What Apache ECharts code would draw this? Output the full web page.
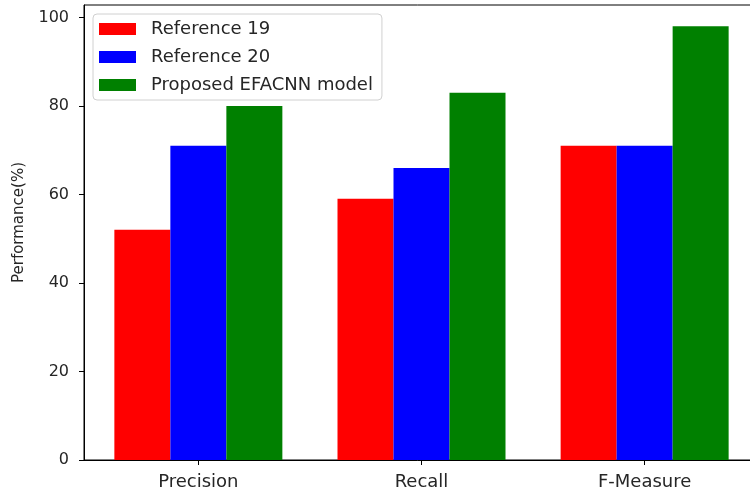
<!DOCTYPE html>
<html>
<head>
<meta charset="utf-8">
<script src="https://cdn.jsdelivr.net/npm/echarts@6/dist/echarts.min.js"></script>
<style>
  html, body { margin: 0; padding: 0; background: #fff; }
  #chart { width: 750px; height: 492px; }
</style>
</head>
<body>
<div id="chart"></div>
<script>
const categories = ['Precision', 'Recall', 'F-Measure']
const seriesNames = ['Reference 19', 'Reference 20', 'Proposed EFACNN model']
const ref19 = [52, 59, 71]
const ref20 = [71, 66, 71]
const efacnn = [80, 83, 98]
const yTicks = [0, 20, 40, 60, 80, 100]
const xTicks = [0, 1, 2]

const colors = ['#ff0000', '#0000ff', '#008000']
const font = 'DejaVu Sans'
const textColor = '#262626'

const chart = echarts.init(document.getElementById('chart'))

// the source figure is cut on the right, so the plot runs past the canvas
function toPairs(values) {
  return values.map((v, i) => [i, v])
}

chart.setOption({
  animation: false,
  textStyle: { fontFamily: font },
  grid: {
    left: 84,
    right: -9,
    top: 5,
    bottom: 32,
    outerBoundsMode: 'none',
    containLabel: false,
    show: true,
    borderColor: '#000',
    borderWidth: 1,
    backgroundColor: '#fff'
  },
  legend: {
    orient: 'vertical',
    left: 93,
    top: 14,
    padding: [6, 9, 6, 6],
    itemWidth: 37,
    itemHeight: 12,
    itemGap: 10,
    borderColor: '#d0d0d0',
    borderWidth: 1,
    borderRadius: 4,
    backgroundColor: '#fff',
    icon: 'rect',
    textStyle: { fontFamily: font, fontSize: 18, color: textColor, padding: [0, 0, 0, 10] },
    data: seriesNames
  },
  xAxis: {
    type: 'value',
    min: -0.5125,
    max: 2.5125,
    splitLine: { show: false },
    axisLine: { onZero: false, lineStyle: { color: '#000' } },
    axisTick: { show: true, length: 5, customValues: xTicks, lineStyle: { color: '#000' } },
    axisLabel: {
      fontFamily: font,
      fontSize: 18,
      color: textColor,
      margin: 13,
      customValues: xTicks,
      formatter: function(v) {
        return categories[Math.round(v)]
      }
    }
  },
  yAxis: {
    type: 'value',
    min: 0,
    max: 102.8,
    name: 'Performance(%)',
    nameLocation: 'middle',
    nameGap: 57,
    nameTextStyle: { fontFamily: font, fontSize: 15, color: textColor, padding: [0, 0, 0, 20] },
    splitLine: { show: false },
    axisLine: { show: true, onZero: false, lineStyle: { color: '#000' } },
    axisTick: { show: true, length: 5, customValues: yTicks, lineStyle: { color: '#000' } },
    axisLabel: { fontFamily: font, fontSize: 16, color: textColor, margin: 15, customValues: yTicks }
  },
  series: [
    { name: seriesNames[0], type: 'bar', data: toPairs(ref19), barWidth: 56, barGap: '0%', itemStyle: { color: colors[0] } },
    { name: seriesNames[1], type: 'bar', data: toPairs(ref20), barWidth: 56, barGap: '0%', itemStyle: { color: colors[1] } },
    { name: seriesNames[2], type: 'bar', data: toPairs(efacnn), barWidth: 56, barGap: '0%', itemStyle: { color: colors[2] } }
  ]
})
</script>
</body>
</html>
